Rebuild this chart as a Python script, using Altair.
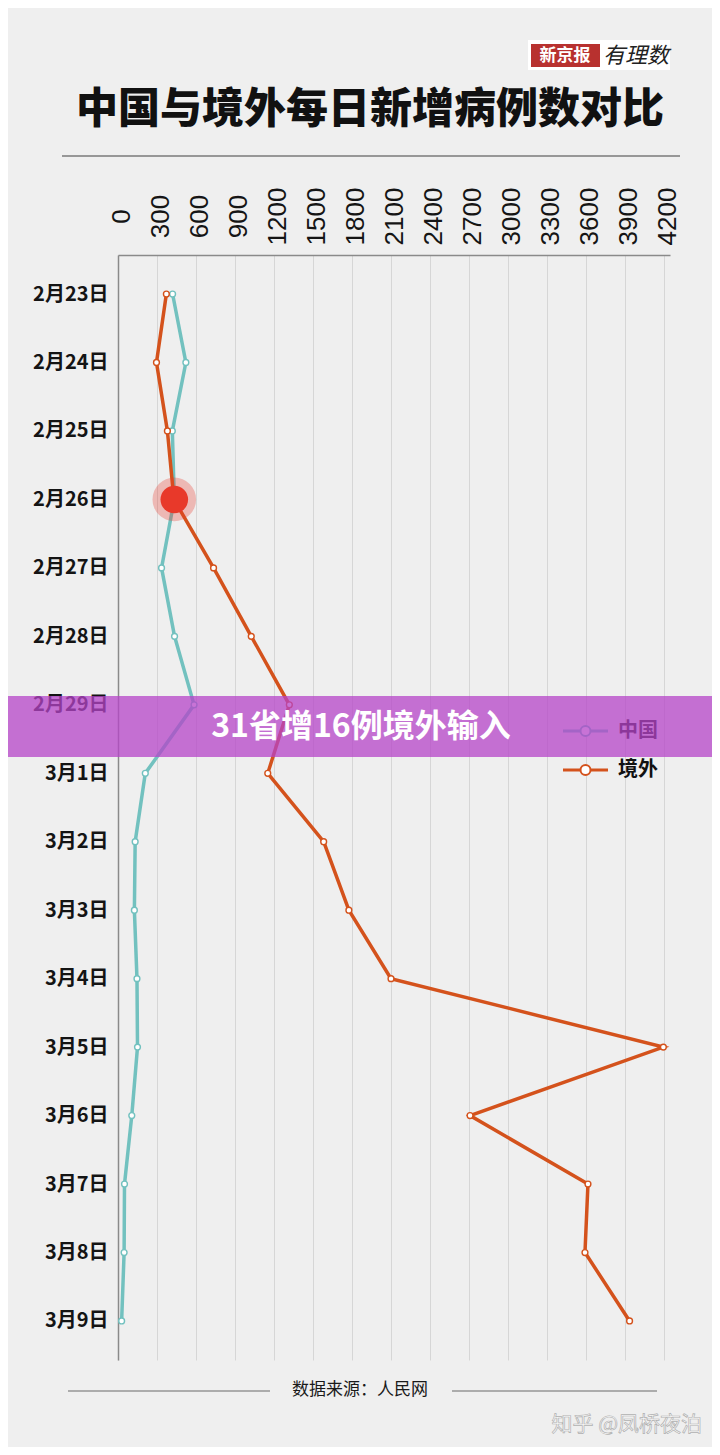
import altair as alt
import pandas as pd

# ---- data ----
dates = ["2月23日", "2月24日", "2月25日", "2月26日", "2月27日", "2月28日", "2月29日", "3月1日",
         "3月2日", "3月3日", "3月4日", "3月5日", "3月6日", "3月7日", "3月8日", "3月9日"]
china = [420, 522, 418, 433, 335, 435, 585, 210, 132, 126, 146, 150, 106, 50, 47, 28]
overseas = [372, 296, 380, 430, 735, 1025, 1318, 1152, 1582, 1776, 2100, 4195, 2708, 3615, 3592, 3935]
series_names = ["中国", "境外"]
ticks = [0, 300, 600, 900, 1200, 1500, 1800, 2100, 2400, 2700, 3000, 3300, 3600, 3900, 4200]
highlight_date = "2月26日"

TEAL = "#72c1bf"
ORANGE = "#d4521c"
BG = "#efefef"
CJK = "Noto Sans CJK SC"

rows = []
for i, d in enumerate(dates):
    rows.append({"date": d, "idx": i, "value": china[i], "series": series_names[0]})
for i, d in enumerate(dates):
    rows.append({"date": d, "idx": i, "value": overseas[i], "series": series_names[1]})
df = pd.DataFrame(rows)
hl = df[(df["date"] == highlight_date) & (df["series"] == series_names[0])]

W, H = 552, 1105
xs = alt.Scale(domain=[0, 4246], nice=False, zero=True)
ys = alt.Scale(type="point", domain=dates, padding=0.57)

xaxis = alt.Axis(orient="top", values=ticks, format="d", labelAngle=270, labelAlign="center",
                 labelBaseline="middle", labelFont="Liberation Sans", labelFontSize=26,
                 labelColor="#151515", labelPadding=39, labelOffset=3, ticks=False,
                 grid=True, gridColor="#d6d6d6", gridWidth=1,
                 domainColor="#8a8a8a", domainWidth=1.5, labelOverlap=False, labelFlush=False)
yaxis = alt.Axis(orient="left", labelFont=CJK, labelFontWeight="bold", labelFontSize=20,
                 labelColor="#141414", labelPadding=10, ticks=False, grid=False,
                 domainColor="#8a8a8a", domainWidth=1.5)
xenc = alt.X("value:Q", scale=xs, title=None, axis=xaxis)
yenc = alt.Y("date:N", scale=ys, sort=dates, title=None, axis=yaxis)
cenc = alt.Color("series:N", scale=alt.Scale(domain=series_names, range=[TEAL, ORANGE]), legend=None)

base = alt.Chart(df).encode(x=xenc, y=yenc, color=cenc, order=alt.Order("idx:Q"))
lines = base.mark_line(strokeWidth=3.5)
points = base.mark_point(filled=False, fill="white", fillOpacity=1, size=34, strokeWidth=1.4, opacity=1)

hl_x = alt.X("value:Q", scale=xs, title=None, axis=xaxis)
hl_y = alt.Y("date:N", scale=ys, sort=dates, title=None, axis=yaxis)
halo = alt.Chart(hl).mark_circle(color="#e8392a", opacity=0.3, size=1900).encode(x=hl_x, y=hl_y)
core = alt.Chart(hl).mark_circle(color="#e8392a", opacity=1, size=760).encode(x=hl_x, y=hl_y)

one = pd.DataFrame({"k": [0]})


def txt(text, x, y, **kw):
    return alt.Chart(one).mark_text(text=text, **kw).encode(x=alt.value(x), y=alt.value(y))


def rect(x1, x2, y1, y2, **kw):
    return alt.Chart(one).mark_rect(**kw).encode(x=alt.value(x1), x2=alt.value(x2),
                                                  y=alt.value(y1), y2=alt.value(y2))


def hrule(x1, x2, y, **kw):
    return alt.Chart(one).mark_rule(**kw).encode(x=alt.value(x1), x2=alt.value(x2), y=alt.value(y))


# header
logo_bg = rect(410, 552, -215, -185, color="white")
logo_red = rect(413, 482, -211, -188, color="#b8312f")
logo_t1 = txt("新京报", 447, -199, font=CJK, fontSize=17, fontWeight="bold", color="white",
              align="center", baseline="middle")
logo_t2 = txt("有理数", 518, -199, font=CJK, fontSize=22, fontStyle="italic", color="#222",
              align="center", baseline="middle")
title = txt("中国与境外每日新增病例数对比", 252, -145, font=CJK, fontSize=42, fontWeight=900,
            color="#111", align="center", baseline="middle")
top_rule = hrule(-56, 562, -99, color="#7a7a7a", strokeWidth=1.5)

# custom legend
leg = []
for name, col, yy in [(series_names[0], TEAL, 476), (series_names[1], ORANGE, 515)]:
    leg.append(hrule(445, 490, yy, color=col, strokeWidth=3))
    leg.append(alt.Chart(one).mark_point(filled=False, fill="white", fillOpacity=1, size=100,
                                         strokeWidth=2, color=col)
               .encode(x=alt.value(467.5), y=alt.value(yy)))
    leg.append(txt(name, 500, yy, font=CJK, fontSize=20, fontWeight="bold", color="#111",
                   align="left", baseline="middle"))

# banner
banner = rect(-118, 602, 441, 502, color="#b544c8", opacity=0.75)
banner_t = txt("31省增16例境外输入", 243, 472, font=CJK, fontSize=32, fontWeight="bold",
               color="white", align="center", baseline="middle")

# footer
src = txt("数据来源：人民网", 242, 1135, font=CJK, fontSize=17, color="#1a1a1a",
          align="center", baseline="middle")
src_l = hrule(-50, 152, 1136, color="#6a6a6a", strokeWidth=1.2)
src_r = hrule(334, 539, 1136, color="#6a6a6a", strokeWidth=1.2)
wm = txt("知乎 @凤桥夜泊", 584, 1170, font=CJK, fontSize=21, color="#fbfbfb", stroke="#b0b0b0",
         strokeWidth=0.7, align="right", baseline="middle")

chart = alt.layer(
    lines, points, halo, core,
    logo_bg, logo_red, logo_t1, logo_t2, title, top_rule,
    *leg, banner, banner_t, src, src_l, src_r, wm
).properties(
    width=W, height=H,
    autosize=alt.AutoSizeParams(type="none"),
    padding={"left": 110, "top": 247, "right": 42, "bottom": 87},
    background=BG,
).configure_view(stroke=None)

chart.save("out.html", embed_options={"renderer": "svg", "actions": False})
